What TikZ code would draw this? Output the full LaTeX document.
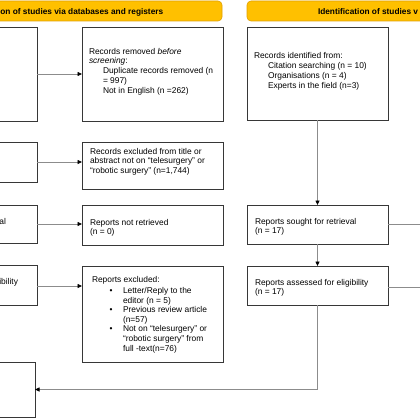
\documentclass[tikz,border=0pt]{standalone}
\usepackage{fontspec}
\setmainfont{Liberation Sans}
\usetikzlibrary{arrows.meta}
\definecolor{hdr}{RGB}{255,192,0}
\definecolor{hdrline}{RGB}{225,160,0}
\definecolor{boxline}{RGB}{55,55,55}
\definecolor{conn}{RGB}{140,140,140}
\begin{document}
\begin{tikzpicture}[x=1pt,y=-1pt,
  pbox/.style={draw=boxline,line width=0.9pt,rectangle,inner sep=0pt,outer sep=0pt,fill=white},
  hbox/.style={draw=hdrline,line width=0.6pt,fill=hdr,rounded corners=4pt,rectangle,inner sep=0pt,outer sep=0pt},
  txt/.style={inner sep=0pt,outer sep=0pt,align=left,anchor=north west,font=\fontsize{8.4}{9.6}\selectfont},
  htxt/.style={inner sep=0pt,outer sep=0pt,font=\fontsize{8.3}{10}\selectfont\bfseries},
  conn/.style={draw=conn,line width=0.8pt},
  arr/.style={conn,-{Triangle[length=4.5pt,width=4pt,color=black]}}
]
\useasboundingbox (0,0) rectangle (420,420);
\clip (0,0) rectangle (420,420);
\fill[white] (0,0) rectangle (420,420);

% headers
\node[hbox,minimum width=522pt,minimum height=20pt] (hL) at (-39,11) {};
\node[hbox,minimum width=400pt,minimum height=20pt] (hR) at (447,11) {};
\node[htxt,anchor=base west] (hLt) at (0.4,14.8) {on of studies via databases and registers};
\node[htxt,anchor=base west] (hRt) at (318,14.8) {Identification of studies v};

% boxes
\node[pbox,minimum width=141pt,minimum height=94pt] (L1) at (-33.5,74) {};
\node[pbox,minimum width=141pt,minimum height=94pt] (B1) at (152.5,74) {};
\node[pbox,minimum width=141pt,minimum height=93pt] (R1) at (317.5,73.5) {};
\node[pbox,minimum width=141pt,minimum height=40pt] (L2) at (-33.5,162) {};
\node[pbox,minimum width=141pt,minimum height=47pt] (B2) at (152.5,165.5) {};
\node[pbox,minimum width=141pt,minimum height=38pt] (L3) at (-33.5,224) {};
\node[pbox,minimum width=141pt,minimum height=40pt] (B3) at (152.5,225) {};
\node[pbox,minimum width=141pt,minimum height=39pt] (R3) at (317.5,224.5) {};
\node[pbox,minimum width=141pt,minimum height=40pt] (L4) at (-33.5,285) {};
\node[pbox,minimum width=141pt,minimum height=96pt] (B4) at (152.5,314) {};
\node[pbox,minimum width=141pt,minimum height=39pt] (R4) at (317.5,285.5) {};
\node[pbox,minimum width=139pt,minimum height=55pt] (L5) at (-34.5,389.5) {};

% texts
\node[txt,font=\fontsize{8.4}{9.8}\selectfont] (B1t) at (89,48) {Records removed \textit{before}\\\textit{screening}:\\\hspace*{14pt}Duplicate records removed (n\\\hspace*{14pt}= 997)\\\hspace*{14pt}Not in English (n =262)};
\node[txt,font=\fontsize{8.4}{10}\selectfont] (R1t) at (254,52) {Records identified from:\\\hspace*{14pt}Citation searching (n = 10)\\\hspace*{14pt}Organisations (n = 4)\\\hspace*{14pt}Experts in the field (n=3)};
\node[txt,font=\fontsize{8.4}{9.7}\selectfont] (B2t) at (90,148) {Records excluded from title or\\abstract not on “telesurgery” or\\“robotic surgery” (n=1,744)};
\node[txt,font=\fontsize{8.4}{9}\selectfont] (B3t) at (90,219) {Reports not retrieved\\(n = 0)};
\node[txt,font=\fontsize{8.4}{9}\selectfont] (R3t) at (255,218) {Reports sought for retrieval\\(n = 17)};
\node[txt,font=\fontsize{8.4}{9}\selectfont] (R4t) at (255,279) {Reports assessed for eligibility\\(n = 17)};
\node[txt] (B4t) at (92,276) {Reports excluded:};
\node[txt] (B4l) at (123,287.5) {\llap{•\hspace{10.5pt}}Letter/Reply to the\\editor (n = 5)\\\llap{•\hspace{10.5pt}}Previous review article\\(n=57)\\\llap{•\hspace{10.5pt}}Not on “telesurgery” or\\“robotic surgery” from\\full -text(n=76)};
\node[txt,anchor=base east] (L3t) at (6,224) {al};
\node[txt,anchor=base east] (L4t) at (18,284) {ibility};

% connectors
\coordinate (o1) at (440,225);
\coordinate (o2) at (440,287);
\draw[arr] (L1.east) -- (B1.west);
\draw[arr] (L2.east) -- (L2.east -| B2.west);
\draw[arr] (L3.east) -- (L3.east -| B3.west);
\draw[arr] ([yshift=-1pt]L4.east) -- ([yshift=-1pt]L4.east -| B4.west);
\draw[arr] (R1.south) -- (R3.north);
\draw[arr] (R3.south) -- (R4.north);
\draw[conn] (R3.east) -- (R3.east -| o1);
\draw[conn] ([yshift=-1.5pt]R4.east) -- ([yshift=-1.5pt]R4.east -| o2);
\draw[arr] (R4.south) -- (R4.south |- L5.east) -- (L5.east);
\end{tikzpicture}
\end{document}
